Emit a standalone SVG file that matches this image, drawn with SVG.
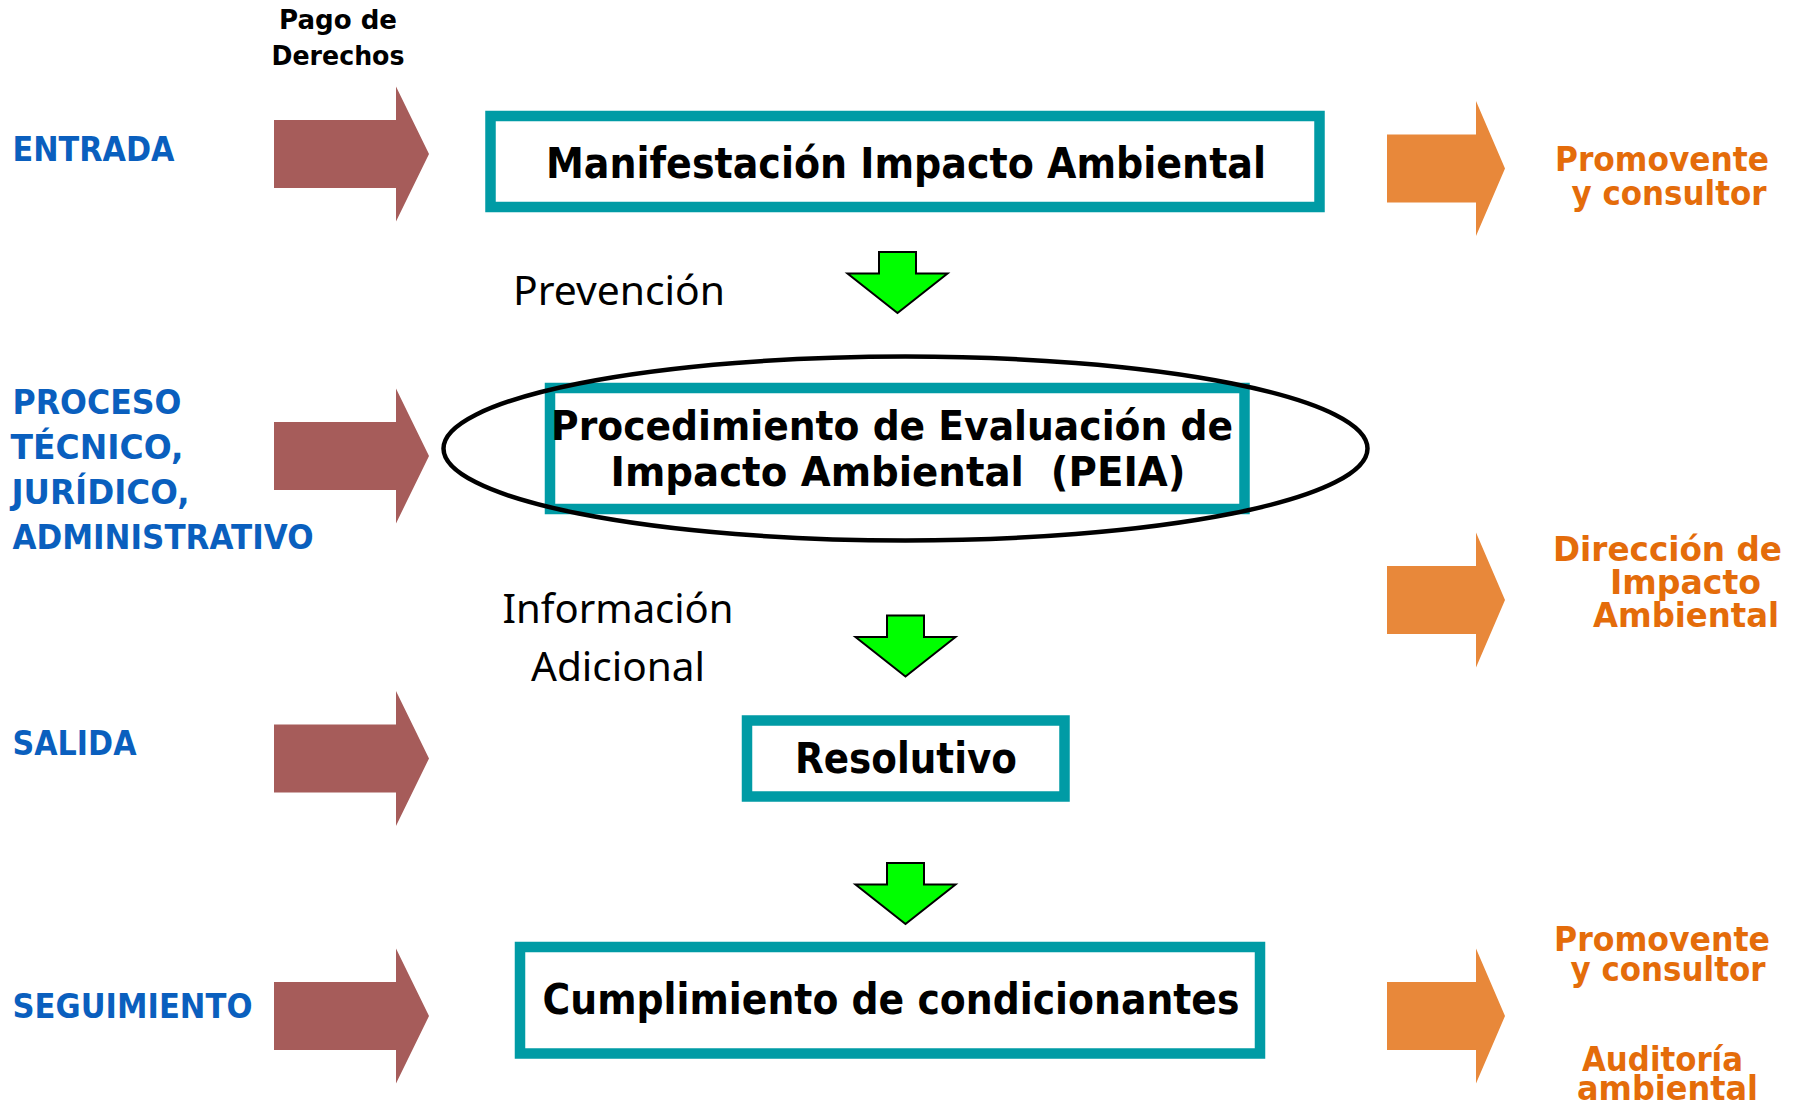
<svg xmlns="http://www.w3.org/2000/svg" width="1802" height="1105" viewBox="0 0 1802 1105">
<style>
.box{fill:#ffffff;stroke:#009BA5;stroke-width:10.5}
.bt{font-family:"DejaVu Sans","Liberation Sans",sans-serif;font-weight:bold;fill:#000000;text-anchor:middle}
.blue{font-family:"DejaVu Sans","Liberation Sans",sans-serif;font-weight:bold;fill:#0A5FBE}
.org{font-family:"DejaVu Sans","Liberation Sans",sans-serif;font-weight:bold;fill:#E46C0A;text-anchor:middle}
.cal{font-family:"Noto Sans","Open Sans",sans-serif;fill:#000000;text-anchor:middle}
.pago{font-family:"DejaVu Sans","Liberation Sans",sans-serif;font-weight:bold;fill:#000000;text-anchor:middle}
.mar{fill:#A65C5A}
.ora{fill:#E8883A}
.grn{fill:#00FF00;stroke:#000000;stroke-width:2;stroke-linejoin:miter}
</style>
<defs>
<path id="marArrow" d="M0,-34 H122 V-67.5 L155,0 L122,67.5 V34 H0 Z"/>
<path id="oraArrow" d="M0,-34 H89 V-67.5 L118,0 L89,67.5 V34 H0 Z"/>
<path id="grnArrow" d="M-18.5,0 H18.5 V21.5 H50 L0,61 L-50,21.5 H-18.5 Z"/>
</defs>

<g id="connectors">
<use href="#marArrow" class="mar" transform="translate(274,154)"/>
<use href="#marArrow" class="mar" transform="translate(274,456)"/>
<use href="#marArrow" class="mar" transform="translate(274,758.5)"/>
<use href="#marArrow" class="mar" transform="translate(274,1016)"/>
<use href="#oraArrow" class="ora" transform="translate(1387,168.5)"/>
<use href="#oraArrow" class="ora" transform="translate(1387,600)"/>
<use href="#oraArrow" class="ora" transform="translate(1387,1016)"/>
<use href="#grnArrow" class="grn" transform="translate(897.5,252)"/>
<use href="#grnArrow" class="grn" transform="translate(905.5,615.5)"/>
<use href="#grnArrow" class="grn" transform="translate(905.5,863)"/>
</g>

<g id="labels-left">
<text class="pago" x="338" y="29" font-size="27" textLength="118" lengthAdjust="spacingAndGlyphs">Pago de</text>
<text class="pago" x="338" y="65" font-size="27" textLength="133" lengthAdjust="spacingAndGlyphs">Derechos</text>
<text class="blue" x="12.5" y="161" font-size="34" textLength="162" lengthAdjust="spacingAndGlyphs">ENTRADA</text>
<text class="blue" x="12.5" y="414" font-size="34" textLength="169" lengthAdjust="spacingAndGlyphs">PROCESO</text>
<text class="blue" x="10.5" y="459" font-size="34" textLength="173" lengthAdjust="spacingAndGlyphs">TÉCNICO,</text>
<text class="blue" x="11.5" y="504" font-size="34" textLength="178" lengthAdjust="spacingAndGlyphs">JURÍDICO,</text>
<text class="blue" x="12.5" y="549" font-size="34" textLength="301" lengthAdjust="spacingAndGlyphs">ADMINISTRATIVO</text>
<text class="blue" x="12.5" y="755" font-size="34" textLength="124" lengthAdjust="spacingAndGlyphs">SALIDA</text>
<text class="blue" x="12.5" y="1018" font-size="34" textLength="240" lengthAdjust="spacingAndGlyphs">SEGUIMIENTO</text>
</g>

<g id="labels-mid">
<text class="cal" x="619" y="305" font-size="40" textLength="212" lengthAdjust="spacingAndGlyphs">Prevención</text>
<text class="cal" x="618" y="623" font-size="40" textLength="231" lengthAdjust="spacingAndGlyphs">Información</text>
<text class="cal" x="618" y="681" font-size="40" textLength="174" lengthAdjust="spacingAndGlyphs">Adicional</text>
</g>

<g id="node-mia">
<rect class="box" x="490.5" y="116" width="829" height="91"/>
<text class="bt" x="906" y="178" font-size="42" textLength="720" lengthAdjust="spacingAndGlyphs">Manifestación Impacto Ambiental</text>
</g>

<g id="node-peia">
<rect class="box" x="550" y="388" width="694.5" height="121"/>
<text class="bt" x="892" y="439.5" font-size="40" textLength="682" lengthAdjust="spacingAndGlyphs">Procedimiento de Evaluación de</text>
<text class="bt" x="898" y="486" font-size="40" textLength="575" lengthAdjust="spacingAndGlyphs" xml:space="preserve">Impacto Ambiental  (PEIA)</text>
<ellipse cx="905.5" cy="448.5" rx="462" ry="92" fill="none" stroke="#000000" stroke-width="4.5"/>
</g>

<g id="node-resolutivo">
<rect class="box" x="747" y="720.5" width="317.5" height="76"/>
<text class="bt" x="906" y="772.5" font-size="42" textLength="222" lengthAdjust="spacingAndGlyphs">Resolutivo</text>
</g>

<g id="node-cumplimiento">
<rect class="box" x="520" y="947" width="740" height="106.5"/>
<text class="bt" x="891" y="1013.5" font-size="42" textLength="697" lengthAdjust="spacingAndGlyphs">Cumplimiento de condicionantes</text>
</g>

<g id="labels-right">
<text class="org" x="1662" y="171" font-size="33" textLength="214" lengthAdjust="spacingAndGlyphs">Promovente</text>
<text class="org" x="1669" y="205" font-size="33" textLength="195" lengthAdjust="spacingAndGlyphs">y consultor</text>
<text class="org" x="1667.5" y="561" font-size="33" textLength="229" lengthAdjust="spacingAndGlyphs">Dirección de</text>
<text class="org" x="1685.5" y="594" font-size="33" textLength="151" lengthAdjust="spacingAndGlyphs">Impacto</text>
<text class="org" x="1686" y="627" font-size="33" textLength="186" lengthAdjust="spacingAndGlyphs">Ambiental</text>
<text class="org" x="1662" y="951" font-size="33" textLength="216" lengthAdjust="spacingAndGlyphs">Promovente</text>
<text class="org" x="1668" y="981" font-size="33" textLength="195" lengthAdjust="spacingAndGlyphs">y consultor</text>
<text class="org" x="1662.5" y="1071" font-size="33" textLength="161" lengthAdjust="spacingAndGlyphs">Auditoría</text>
<text class="org" x="1667.5" y="1100" font-size="33" textLength="181" lengthAdjust="spacingAndGlyphs">ambiental</text>
</g>
</svg>
